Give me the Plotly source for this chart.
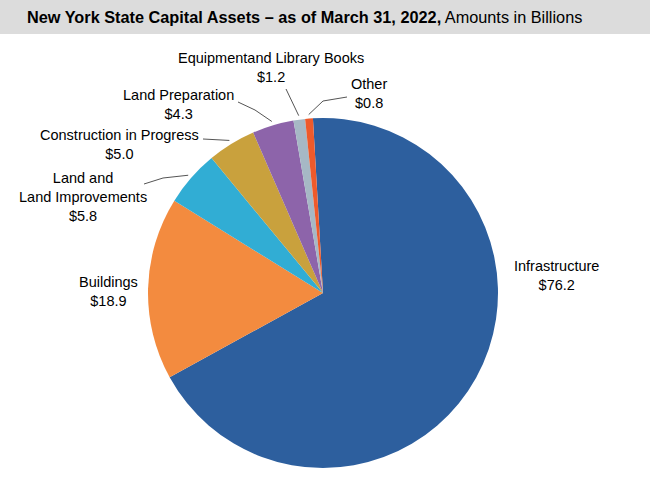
import math
import plotly.graph_objects as go

# ---- data ----
categories = ["Infrastructure", "Buildings", "Land and<br>Land Improvements",
              "Construction in Progress", "Land Preparation",
              "Equipmentand Library Books", "Other"]
values = [76.2, 18.9, 5.8, 5.0, 4.3, 1.2, 0.8]
colors = ["#2D5F9E", "#F38B3F", "#31ADD4", "#C9A13D", "#8D64AA", "#A6B8C5", "#EE5A2B"]

# ---- layout / style ----
W, H = 650, 491
CX, CY, R = 323, 293, 175
ROTATION = -3.3
FONT = "Liberation Sans, Arial, sans-serif"

# label block centers (pixels) and leader lines: list of extra points from label side
label_pos = [(556, 275), (108, 291), (83, 197), (119, 144), (178, 104), (271, 68), (369, 94)]
leaders = [None, None, [(144, 184), (163, 178)], [(203, 139)],
           [(238, 102), (255, 110)], [(286, 89)], [(347, 97), (323, 101)]]


def px2paper(x, y):
    return x / W, 1 - y / H


fig = go.Figure(go.Pie(
    labels=categories, values=values, sort=False, direction="clockwise",
    rotation=ROTATION, marker=dict(colors=colors, line=dict(width=0)),
    textinfo="none", hoverinfo="label+value", showlegend=False,
    domain=dict(x=[(CX - R) / W, (CX + R) / W], y=[1 - (CY + R) / H, 1 - (CY - R) / H]),
))

annotations = []
shapes = []
total = sum(values)
cum = 0.0
for cat, v, lp, ld in zip(categories, values, label_pos, leaders):
    mid = (cum + v / 2) / total * 360 + ROTATION
    cum += v
    x, y = px2paper(*lp)
    annotations.append(dict(text=f"{cat}<br>${v:.1f}", x=x, y=y, xref="paper", yref="paper",
                            xanchor="center", yanchor="middle", showarrow=False,
                            font=dict(family=FONT, size=14.5, color="#000000"), align="center"))
    if ld:
        ex = CX + (R + 4) * math.sin(math.radians(mid))
        ey = CY - (R + 4) * math.cos(math.radians(mid))
        pts = ld + [(ex, ey)]
        path = "M " + " L ".join(f"{px2paper(a, b)[0]},{px2paper(a, b)[1]}" for a, b in pts)
        shapes.append(dict(type="path", path=path, xref="paper", yref="paper",
                           line=dict(color="#555555", width=1)))

# title bar
shapes.append(dict(type="rect", xref="paper", yref="paper", x0=0, x1=1, y0=1 - 34 / H, y1=1,
                   fillcolor="#DCDCDC", line=dict(width=0), layer="below"))
annotations.append(dict(
    text="<b>New York State Capital Assets – as of March 31, 2022,</b> Amounts in Billions",
    x=25 / W, y=1 - 17 / H, xref="paper", yref="paper", xanchor="left", yanchor="middle",
    showarrow=False, font=dict(family=FONT, size=16.3, color="#000000")))

fig.update_layout(width=W, height=H, margin=dict(l=0, r=0, t=0, b=0),
                  paper_bgcolor="white", plot_bgcolor="white",
                  annotations=annotations, shapes=shapes)
fig.write_html("out.html")
